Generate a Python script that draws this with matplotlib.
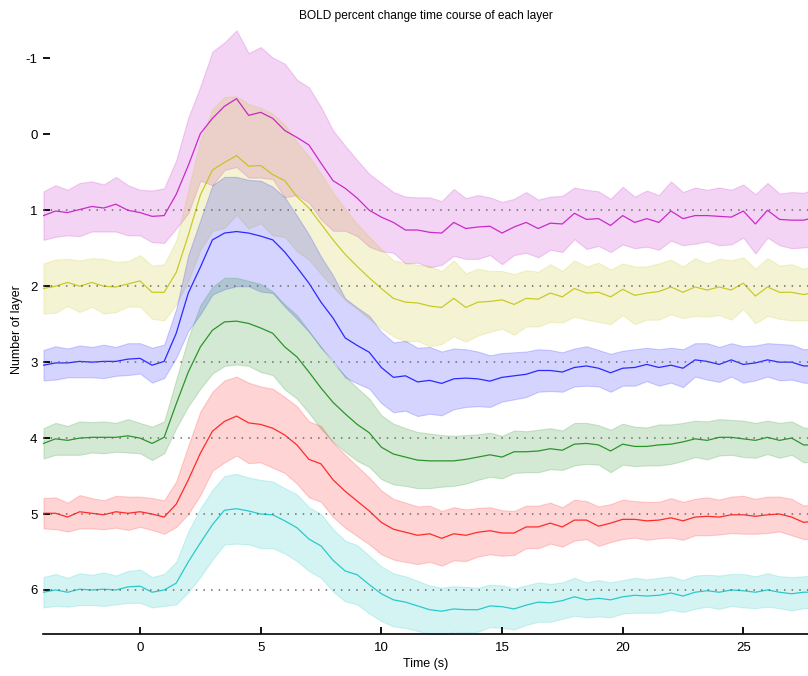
import numpy as np
import matplotlib
matplotlib.use("Agg")
import matplotlib.pyplot as plt

plt.rcParams['font.family'] = ['Liberation Sans', 'DejaVu Sans']

# Sampling of the averaged time courses (seconds)
t_start = -4.0
t_step = 0.5

layers = [1, 2, 3, 4, 5, 6]
layer_colors = ['m', 'y', 'b', 'g', 'r', 'c']

# Mean BOLD response of each layer (scaled percent change, positive = upward)
signal_l1 = [-0.07, -0.01, -0.03, 0.01, 0.05, 0.03, 0.08, 0.00, -0.03, -0.08, -0.07,
             0.21, 0.59, 1.01, 1.21, 1.37, 1.47, 1.25, 1.29, 1.21, 1.05, 0.96, 0.86, 0.62,
             0.39, 0.29, 0.16, 0.00, -0.09, -0.16, -0.26, -0.26, -0.29, -0.30, -0.16, -0.24,
             -0.22, -0.21, -0.30, -0.22, -0.16, -0.24, -0.17, -0.18, -0.04, -0.12, -0.11, -0.20,
             -0.07, -0.16, -0.11, -0.16, -0.01, -0.11, -0.07, -0.07, -0.08, -0.09, -0.01, -0.18,
             0.00, -0.12, -0.13, -0.13, -0.09]
signal_l2 = [-0.03, 0.00, 0.05, 0.00, 0.05, 0.00, -0.01, 0.03, 0.07, -0.08, -0.08,
             0.18, 0.67, 1.20, 1.53, 1.63, 1.72, 1.58, 1.59, 1.47, 1.39, 1.18, 1.03, 0.82,
             0.61, 0.42, 0.26, 0.11, -0.03, -0.16, -0.21, -0.22, -0.26, -0.28, -0.16, -0.28,
             -0.21, -0.20, -0.18, -0.24, -0.16, -0.17, -0.09, -0.14, -0.03, -0.09, -0.08, -0.14,
             -0.04, -0.12, -0.09, -0.07, -0.01, -0.08, -0.01, -0.05, -0.01, -0.05, 0.04, -0.13,
             -0.01, -0.08, -0.08, -0.11, -0.08]
signal_l3 = [-0.04, -0.01, -0.01, 0.01, 0.00, 0.01, 0.01, 0.04, 0.05, -0.04, 0.01,
             0.38, 0.91, 1.25, 1.61, 1.70, 1.72, 1.70, 1.66, 1.61, 1.45, 1.25, 1.04, 0.79,
             0.58, 0.32, 0.22, 0.13, -0.07, -0.20, -0.18, -0.26, -0.24, -0.28, -0.22, -0.21,
             -0.22, -0.25, -0.20, -0.18, -0.16, -0.11, -0.11, -0.13, -0.07, -0.05, -0.08, -0.14,
             -0.08, -0.07, -0.03, -0.07, -0.04, -0.08, 0.03, 0.01, -0.03, 0.03, -0.03, -0.01,
             0.03, 0.00, 0.00, -0.05, -0.05]
signal_l4 = [-0.07, -0.01, -0.03, 0.00, 0.01, 0.01, 0.01, 0.03, 0.00, -0.07, 0.01,
             0.45, 0.87, 1.20, 1.42, 1.53, 1.54, 1.51, 1.45, 1.38, 1.20, 1.07, 0.87, 0.66,
             0.47, 0.32, 0.18, 0.07, -0.12, -0.21, -0.25, -0.29, -0.30, -0.30, -0.30, -0.28,
             -0.25, -0.22, -0.25, -0.18, -0.18, -0.17, -0.14, -0.16, -0.08, -0.07, -0.09, -0.17,
             -0.08, -0.11, -0.11, -0.09, -0.08, -0.05, -0.01, -0.03, 0.01, 0.01, -0.01, -0.03,
             0.01, -0.03, 0.00, -0.09, -0.09]
signal_l5 = [0.01, 0.01, -0.04, 0.03, 0.01, -0.01, 0.03, 0.01, 0.03, 0.00, -0.04,
             0.13, 0.45, 0.80, 1.09, 1.22, 1.29, 1.20, 1.18, 1.13, 1.04, 0.91, 0.72, 0.66,
             0.45, 0.30, 0.17, 0.04, -0.11, -0.20, -0.24, -0.28, -0.26, -0.32, -0.26, -0.28,
             -0.24, -0.22, -0.25, -0.25, -0.17, -0.17, -0.12, -0.17, -0.08, -0.08, -0.16, -0.12,
             -0.07, -0.07, -0.09, -0.08, -0.05, -0.09, -0.04, -0.03, -0.04, -0.01, -0.01, -0.03,
             -0.01, 0.00, -0.04, -0.11, -0.09]
signal_l6 = [-0.03, 0.00, -0.03, 0.01, 0.00, 0.01, 0.00, 0.04, 0.05, -0.03, 0.00,
             0.09, 0.37, 0.62, 0.86, 1.05, 1.07, 1.04, 1.00, 0.99, 0.91, 0.82, 0.67, 0.58,
             0.39, 0.25, 0.20, 0.07, -0.05, -0.13, -0.16, -0.21, -0.26, -0.28, -0.25, -0.26,
             -0.26, -0.21, -0.22, -0.25, -0.20, -0.16, -0.17, -0.14, -0.09, -0.13, -0.11, -0.13,
             -0.09, -0.07, -0.08, -0.07, -0.04, -0.08, -0.03, -0.01, -0.03, 0.00, -0.01, -0.03,
             0.00, -0.03, -0.05, -0.03, -0.03]

# Half-width of the shaded spread around each mean
spread_l1 = [0.32, 0.34, 0.30, 0.35, 0.33, 0.31, 0.36, 0.33, 0.30, 0.34, 0.36,
             0.45, 0.63, 0.62, 0.88, 0.84, 0.90, 0.82, 0.86, 0.80, 0.88, 0.76, 0.76, 0.74,
             0.66, 0.56, 0.50, 0.48, 0.45, 0.40, 0.44, 0.43, 0.46, 0.42, 0.44, 0.40, 0.42,
             0.38, 0.41, 0.37, 0.40, 0.38, 0.35, 0.37, 0.34, 0.39, 0.36, 0.35, 0.38, 0.34,
             0.37, 0.36, 0.39, 0.35, 0.37, 0.34, 0.38, 0.36, 0.35, 0.39, 0.36, 0.34, 0.37,
             0.36, 0.38]
spread_l2 = [0.33, 0.35, 0.31, 0.34, 0.32, 0.36, 0.33, 0.30, 0.34, 0.35, 0.37,
             0.42, 0.60, 0.72, 0.80, 0.86, 0.78, 0.82, 0.76, 0.80, 0.74, 0.72, 0.68, 0.66,
             0.62, 0.60, 0.56, 0.54, 0.52, 0.50, 0.52, 0.50, 0.53, 0.48, 0.50, 0.45, 0.44,
             0.40, 0.38, 0.40, 0.37, 0.36, 0.38, 0.34, 0.37, 0.35, 0.39, 0.36, 0.34, 0.38,
             0.35, 0.37, 0.36, 0.34, 0.38, 0.35, 0.37, 0.39, 0.34, 0.36, 0.38, 0.35, 0.37,
             0.34, 0.36]
spread_l3 = [0.20, 0.22, 0.19, 0.21, 0.20, 0.22, 0.19, 0.21, 0.20, 0.23, 0.22,
             0.32, 0.50, 0.62, 0.72, 0.74, 0.72, 0.70, 0.73, 0.70, 0.72, 0.68, 0.64, 0.60,
             0.56, 0.52, 0.50, 0.48, 0.47, 0.46, 0.46, 0.45, 0.44, 0.42, 0.40, 0.38, 0.36,
             0.34, 0.32, 0.31, 0.30, 0.28, 0.27, 0.26, 0.25, 0.26, 0.24, 0.25, 0.23, 0.24,
             0.22, 0.24, 0.23, 0.25, 0.22, 0.24, 0.23, 0.22, 0.24, 0.23, 0.22, 0.24, 0.23,
             0.22, 0.23]
spread_l4 = [0.20, 0.21, 0.19, 0.22, 0.20, 0.21, 0.19, 0.22, 0.20, 0.22, 0.21,
             0.32, 0.45, 0.55, 0.57, 0.58, 0.57, 0.56, 0.58, 0.55, 0.56, 0.55, 0.54, 0.54,
             0.52, 0.50, 0.48, 0.45, 0.42, 0.40, 0.38, 0.37, 0.36, 0.34, 0.33, 0.32, 0.30,
             0.29, 0.28, 0.28, 0.27, 0.28, 0.27, 0.26, 0.28, 0.27, 0.26, 0.28, 0.27, 0.26,
             0.25, 0.27, 0.26, 0.25, 0.24, 0.25, 0.24, 0.23, 0.24, 0.23, 0.22, 0.23, 0.22,
             0.23, 0.22]
spread_l5 = [0.20, 0.21, 0.19, 0.22, 0.20, 0.19, 0.21, 0.22, 0.20, 0.21, 0.22,
             0.30, 0.45, 0.55, 0.52, 0.54, 0.52, 0.53, 0.50, 0.52, 0.50, 0.51, 0.50, 0.50,
             0.49, 0.48, 0.46, 0.44, 0.42, 0.40, 0.39, 0.38, 0.37, 0.36, 0.35, 0.34, 0.32,
             0.31, 0.30, 0.29, 0.28, 0.28, 0.27, 0.26, 0.27, 0.25, 0.26, 0.25, 0.26, 0.24,
             0.25, 0.24, 0.26, 0.25, 0.24, 0.25, 0.23, 0.24, 0.25, 0.23, 0.24, 0.23, 0.24,
             0.22, 0.23]
spread_l6 = [0.20, 0.21, 0.19, 0.21, 0.20, 0.22, 0.19, 0.21, 0.22, 0.20, 0.21,
             0.28, 0.40, 0.45, 0.46, 0.45, 0.46, 0.44, 0.45, 0.44, 0.43, 0.44, 0.42, 0.42,
             0.41, 0.40, 0.39, 0.38, 0.36, 0.35, 0.34, 0.33, 0.32, 0.31, 0.30, 0.30, 0.29,
             0.28, 0.28, 0.27, 0.26, 0.26, 0.25, 0.24, 0.25, 0.23, 0.24, 0.23, 0.22, 0.23,
             0.22, 0.23, 0.22, 0.21, 0.22, 0.21, 0.22, 0.21, 0.22, 0.21, 0.22, 0.21, 0.22,
             0.21, 0.22]

signals = [signal_l1, signal_l2, signal_l3, signal_l4, signal_l5, signal_l6]
spreads = [spread_l1, spread_l2, spread_l3, spread_l4, spread_l5, spread_l6]

y_ticks = [-1, 0, 1, 2, 3, 4, 5, 6]
x_ticks = [0, 5, 10, 15, 20, 25]

fig = plt.figure(figsize=(8.08, 6.76), dpi=100)
ax = fig.add_axes([43 / 808, 42 / 676, 765 / 808, 609 / 676])

for layer, color, sig, spr in zip(layers, layer_colors, signals, spreads):
    sig = np.asarray(sig)
    spr = np.asarray(spr)
    t = t_start + t_step * np.arange(len(sig))
    y = layer - sig
    ax.fill_between(t, y - spr, y + spr, facecolor=color, edgecolor=color,
                    alpha=0.17, linewidth=0.8, zorder=1)
    ax.plot(t, y, color=color, lw=0.9, alpha=0.8, zorder=3)

for layer in layers:
    ax.axhline(layer, color='0.42', lw=1.1, ls=(0, (1, 4)), zorder=4)

ax.set_xlim(-4.02, 27.68)
ax.set_ylim(6.58, -1.44)
ax.set_xticks(x_ticks)
ax.set_yticks(y_ticks)
ax.set_yticklabels([str(v) for v in y_ticks])

for side in ('top', 'right', 'left'):
    ax.spines[side].set_visible(False)
ax.spines['bottom'].set_linewidth(1.2)

ax.tick_params(axis='both', direction='in', length=5, width=1.3, labelsize=9.5,
               colors='black')
ax.tick_params(axis='y', pad=4)
ax.tick_params(axis='x', pad=6)

ax.set_title('BOLD percent change time course of each layer', fontsize=8.6, pad=4)
ax.set_xlabel('Time (s)', fontsize=9, labelpad=3)
ax.set_ylabel('Number of layer', fontsize=9, labelpad=2)

fig.savefig('out.png', dpi=100)
